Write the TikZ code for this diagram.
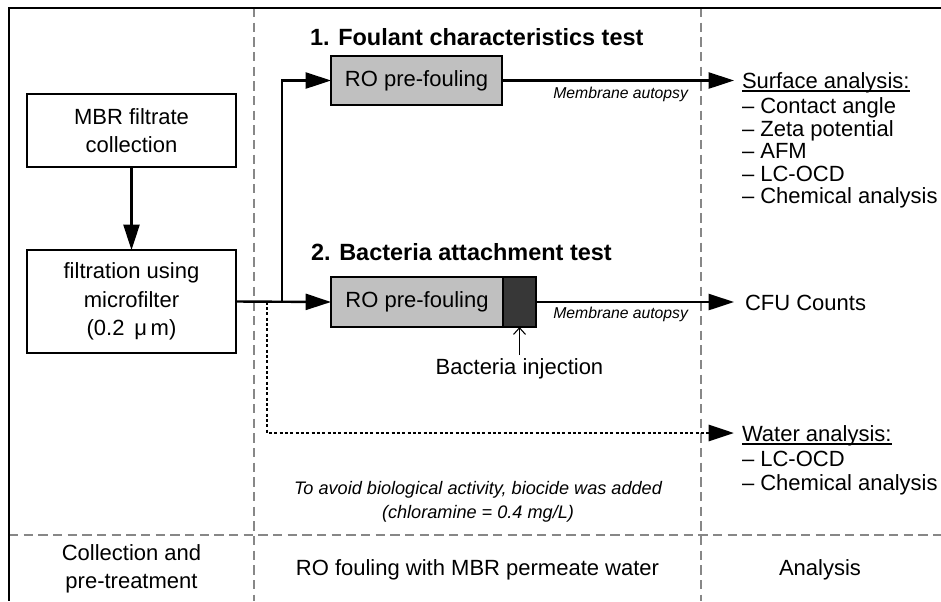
\documentclass[tikz,border=0pt]{standalone}
\usepackage{fontspec}
\setmainfont{Liberation Sans}
\usetikzlibrary{arrows.meta}

\definecolor{boxgray}{RGB}{192,192,192}
\definecolor{darkblock}{RGB}{55,55,55}
\definecolor{sepgray}{RGB}{135,135,135}

\begin{document}
\begin{tikzpicture}[x=0.75pt,y=-0.75pt,
  every node/.style={inner sep=0pt, outer sep=0pt},
  body/.style={font=\fontsize{16.5}{21.5}\selectfont},
  title/.style={font=\fontsize{17.6}{21}\selectfont\bfseries, anchor=base west},
  note/.style={font=\fontsize{11.8}{14}\selectfont\itshape, anchor=base east},
  remark/.style={font=\fontsize{13.6}{17}\selectfont\itshape, anchor=base},
  item/.style={body, anchor=base west},
  label/.style={body, anchor=base},
  box/.style={draw=black, line width=0.9pt, align=center, body},
  flow/.style={line width=1.8pt, -{Triangle[length=19pt,width=12pt]}},
  feed/.style={line width=2.2pt, dash pattern=on 2.4pt off 1.6pt, -{Triangle[length=19pt,width=12pt]}},
  thinarrow/.style={line width=0.8pt, -{Straight Barb[length=5pt,width=9pt,line width=0.8pt]}},
  uline/.style={line width=1pt},
  sep/.style={draw=sepgray, line width=0.8pt, dash pattern=on 7pt off 4pt},
  frame/.style={line width=1.6pt, line join=miter}
]
\useasboundingbox (0,0) rectangle (941,601);

% column and row separators
\draw[sep] (254,8) -- (254,601);
\draw[sep] (701,8) -- (701,601);
\draw[sep] (9,535) -- (941,535);

% outer frame (top and left)
\draw[frame] (941,8) -- (9,8) -- (9,601);

% collection and pre-treatment
\node[box, minimum width=156.75pt, minimum height=54.75pt] (mbr) at (131.5,130.5)
  {MBR filtrate\\collection};
\node[box, minimum width=156.75pt, minimum height=77.25pt] (filt) at (131.5,301.5)
  {filtration using\\microfilter\\(0.2 \,μ\,m)};
\draw[flow] (mbr.south) -- (filt.north);

% RO fouling tests
\node[title] (t1) at (310,45) {1. Foulant characteristics test};
\node[title] (t2) at (311,260) {2. Bacteria attachment test};

\node[box, fill=boxgray, minimum width=128.25pt, minimum height=36.75pt] (ro1) at (416.5,80.5)
  {RO pre-fouling};
\node[box, fill=boxgray, minimum width=129pt, minimum height=37.5pt] (ro2) at (417,302)
  {RO pre-fouling};
\node[draw=black, line width=0.9pt, fill=darkblock, minimum width=24.75pt, minimum height=37.5pt,
  anchor=west] (inj) at (ro2.east) {};

\path (filt.east) ++(46,0) coordinate (split);
\path (filt.east) ++(31,0) coordinate (dsplit);
\draw[flow] (filt.east) -- (ro2.west);
\draw[flow] (split) |- (ro1.west);

\node[label] (binj) at (519.5,374) {Bacteria injection};
\coordinate (binjtop) at (519.5,355);
\draw[thinarrow] (binjtop) -- (inj.south);

\node[note] (aut1) at (688,98) {Membrane autopsy};
\node[note] (aut2) at (688,318) {Membrane autopsy};

\node[remark] (rem1) at (478,494) {To avoid biological activity, biocide was added};
\node[remark] (rem2) at (478,518) {(chloramine = 0.4 mg/L)};

% analysis column
\node[item] (surf) at (742,88) {Surface analysis:};
\draw[uline] ([yshift=-2.2pt]surf.base west) -- ([yshift=-2.2pt]surf.base east);
\node[item] (s1) at (742,113.5) {– Contact angle};
\node[item] (s2) at (742,136) {– Zeta potential};
\node[item] (s3) at (742,158.5) {– AFM};
\node[item] (s4) at (742,181) {– LC-OCD};
\node[item] (s5) at (742,203.5) {– Chemical analysis};

\node[item] (cfu) at (745,310) {CFU Counts};

\node[item] (wat) at (742,441) {Water analysis:};
\draw[uline] ([yshift=-2.2pt]wat.base west) -- ([yshift=-2.2pt]wat.base east);
\node[item] (w1) at (742,466) {– LC-OCD};
\node[item] (w2) at (742,490) {– Chemical analysis};

\coordinate (surfin) at (734,80.5);
\coordinate (cfuin) at (734,302);
\coordinate (watin) at (734,433);
\draw[flow] (ro1.east) -- (surfin);
\draw[flow] (inj.east) -- (cfuin);
\draw[feed] (dsplit) |- (watin);

% stage captions
\node[label] (c1) at (131.5,560) {Collection and};
\node[label] (c2) at (131.5,588) {pre-treatment};
\node[label] (c3) at (477.5,575) {RO fouling with MBR permeate water};
\node[label] (c4) at (820,575) {Analysis};
\end{tikzpicture}
\end{document}
